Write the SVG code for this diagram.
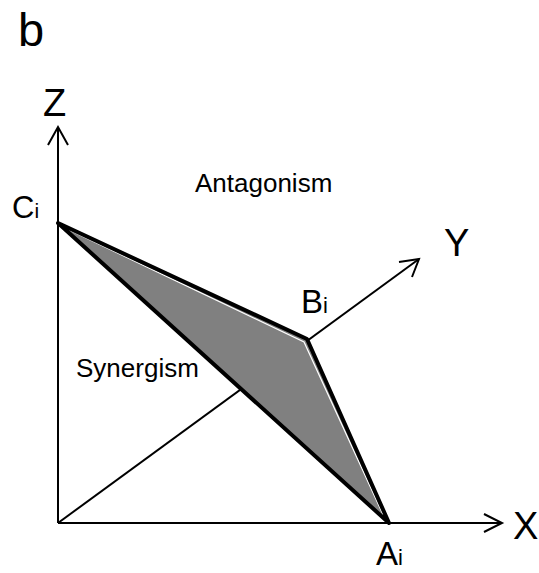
<svg xmlns="http://www.w3.org/2000/svg" width="539" height="573" viewBox="0 0 539 573">
<style>
.t{font-family:"Liberation Sans",Arial,sans-serif;fill:#000}
.ax{stroke:#000;stroke-width:2;fill:none}
.edge{stroke:#000;stroke-width:4;fill:none;stroke-linecap:round;stroke-linejoin:round}
</style>
<rect width="539" height="573" fill="#fff"/>
<g id="connectors">
<line class="ax" x1="58" y1="523" x2="58" y2="127"/>
<polyline class="ax" points="48,145 58,127 68,145"/>
<line class="ax" x1="58" y1="523" x2="502" y2="523"/>
<polyline class="ax" points="484,514 502,523 484,532"/>
<line class="ax" x1="58" y1="523" x2="419" y2="259"/>
<polyline class="ax" points="399,262 419,259 412,277"/>
</g>
<g id="surface">
<polygon points="58,223 307,339 389,523" fill="#808080"/>
<polygon points="63,227 304,342 385,519" fill="none" stroke="#fff" stroke-width="1.2"/>
<polyline class="edge" points="58,223 307,339 389,523 58,223"/>
</g>
<g id="labels">
<text class="t" x="18" y="46" font-size="47">b</text>
<text class="t" x="43" y="116" font-size="38">Z</text>
<text class="t" x="513" y="539" font-size="38">X</text>
<text class="t" x="444" y="256" font-size="38">Y</text>
<text class="t" x="12" y="218" font-size="31">C<tspan font-size="21">i</tspan></text>
<text class="t" x="301" y="313" font-size="33">B<tspan font-size="22">i</tspan></text>
<text class="t" x="376" y="565" font-size="33">A<tspan font-size="22">i</tspan></text>
<text class="t" x="195" y="192" font-size="26">Antagonism</text>
<text class="t" x="76" y="377" font-size="26">Synergism</text>
</g>
</svg>
